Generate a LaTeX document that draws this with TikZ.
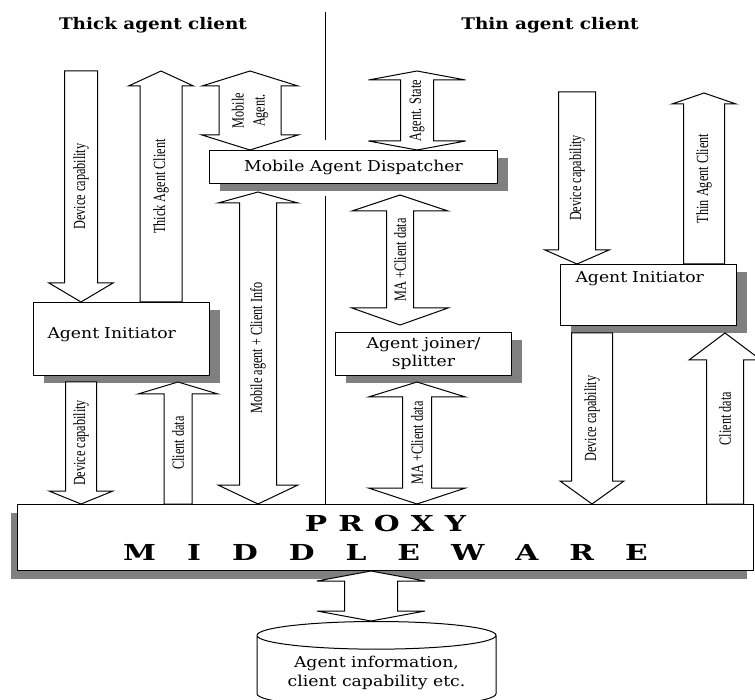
\documentclass[tikz,border=0pt]{standalone}
\usepackage{fontspec}
\usepackage{tikz}
\usetikzlibrary{positioning,calc,shapes,shapes.geometric,shadows}
\newfontfamily\boxfont[FakeStretch=1.15]{DejaVu Serif}
\newfontfamily\widefont[FakeStretch=1.35]{DejaVu Serif}
\newfontfamily\arrowfont[FakeStretch=0.72]{Liberation Serif}
\definecolor{shadowgray}{RGB}{128,128,128}

\tikzset{
	box/.style={draw, fill=white, line width=1pt, inner sep=0pt, font={\boxfont\fontsize{15}{18}\selectfont}},
	shade/.style={drop shadow={shadow xshift=#1, shadow yshift=-8pt, fill=shadowgray, opacity=1}},
	shade/.default=10pt,
	blockarrow/.style={draw, fill=white, line width=1pt, line join=miter},
	arrowlabel/.style={rotate=90, inner sep=0pt, align=center, font={\arrowfont\fontsize{17}{21}\selectfont}},
	heading/.style={font={\boxfont\bfseries\fontsize{16}{19}\selectfont}}
}

\newcommand{\blockone}[6]{%
	\coordinate (hb) at ($(#2)!#5!(#1)$);
	\draw[blockarrow] ($(#1)!#3!90:(#2)$) -- ($(hb)!#3!90:(#2)$) -- ($(hb)!#4!90:(#2)$) -- (#2) -- ($(hb)!#4!-90:(#2)$) -- ($(hb)!#3!-90:(#2)$) -- ($(#1)!#3!-90:(#2)$) -- cycle;
	\path (#1) -- (#2) node[midway, arrowlabel] {#6};
}
\newcommand{\blocktwo}[7]{%
	\coordinate (ha) at ($(#1)!#5!(#2)$);
	\coordinate (hb) at ($(#2)!#6!(#1)$);
	\draw[blockarrow] (#1) -- ($(ha)!#4!-90:(#2)$) -- ($(ha)!#3!-90:(#2)$) -- ($(hb)!#3!-90:(#2)$) -- ($(hb)!#4!-90:(#2)$) -- (#2) -- ($(hb)!#4!90:(#2)$) -- ($(hb)!#3!90:(#2)$) -- ($(ha)!#3!90:(#2)$) -- ($(ha)!#4!90:(#2)$) -- cycle;
	\if\relax\detokenize{#7}\relax\else
	\path (#1) -- (#2) node[midway, arrowlabel] {#7};
	\fi
}

\begin{document}
\begin{tikzpicture}[x=1pt, y=-1pt]
	\useasboundingbox (0,0) rectangle (755,700);
	\node [heading] (thick) at (153,25) {Thick agent client};
	\node [heading] (thin) at (550,25) {Thin agent client};

	\node [box, shade, anchor=north west, minimum width=288pt, minimum height=33pt] (dispatch) at (209,150) {Mobile Agent Dispatcher};
	\node [box, shade, anchor=north west, text width=148pt, inner xsep=14pt, inner ysep=26pt, text height=10pt, text depth=11pt, align=left] (iniL) at (33,302) {Agent Initiator};
	\node [box, shade, anchor=north west, text width=146pt, inner xsep=15pt, inner ysep=8pt, text height=10pt, text depth=35pt, align=left] (iniR) at (560,264) {Agent Initiator};
	\node [box, shade, anchor=north west, minimum width=176pt, minimum height=43pt, align=center] (joiner) at (335,332) {Agent joiner/\\splitter};
	\node [box, shade=-7pt, anchor=north west, minimum width=736pt, minimum height=66pt, align=center, font={\widefont\bfseries\fontsize{22}{29}\selectfont}] (proxy) at (17,504) {{\spaceskip=11pt P R O X Y}\\{\spaceskip=31pt M I D D L E W A R E}};
	\node [draw, fill=white, line width=1pt, cylinder, shape border rotate=90, aspect=0.15, minimum width=239pt, minimum height=86pt, anchor=north, align=center, font={\boxfont\fontsize{15}{19}\selectfont}] (db) at (376.5,621) {Agent information,\\client capability etc.};

	\draw [line width=1pt] (325,12) -- (325,140);
	\draw [line width=1pt] (dispatch.south -| 325,0) ++(0,12) -- (proxy.north -| 325,0);

	\coordinate (dcLa) at (81,71);
	\coordinate (dcLb) at (iniL.north -| 81,0);
	\coordinate (tacLa) at (iniL.north -| 161,0);
	\coordinate (tacLb) at (161,71);
	\coordinate (maga) at (250,71);
	\coordinate (magb) at (dispatch.north -| 250,0);
	\coordinate [yshift=-8pt] (mcia) at (dispatch.south -| 258,0);
	\coordinate (mcib) at (proxy.north -| 258,0);
	\coordinate [yshift=-6pt] (dcLLa) at (iniL.south -| 81,0);
	\coordinate (dcLLb) at (proxy.north -| 81,0);
	\coordinate (cdLa) at (proxy.north -| 178,0);
	\coordinate [yshift=-6pt] (cdLb) at (iniL.south -| 178,0);
	\coordinate (asa) at (417,71);
	\coordinate (asb) at (dispatch.north -| 417,0);
	\coordinate [yshift=-11pt] (macUa) at (dispatch.south -| 400,0);
	\coordinate [yshift=7pt] (macUb) at (joiner.north -| 400,0);
	\coordinate [yshift=-6pt] (macLa) at (joiner.south -| 417,0);
	\coordinate (macLb) at (proxy.north -| 417,0);
	\coordinate (dcRa) at (577,92);
	\coordinate (dcRb) at (iniR.north -| 577,0);
	\coordinate (tacRa) at (iniR.north -| 704,0);
	\coordinate (tacRb) at (704,93);
	\coordinate [yshift=-7pt] (dcRRa) at (iniR.south -| 592,0);
	\coordinate (dcRRb) at (proxy.north -| 592,0);
	\coordinate (cdRa) at (proxy.north -| 725,0);
	\coordinate [yshift=-7pt] (cdRb) at (iniR.south -| 725,0);
	\coordinate (dba) at (proxy.south -| 371,0);
	\coordinate (dbb) at (db.north -| 371,0);

	\blockone{dcLa}{dcLb}{16.5pt}{32pt}{19pt}{Device capability}
	\blockone{tacLa}{tacLb}{21pt}{32.5pt}{15pt}{Thick Agent Client}
	\blocktwo{maga}{magb}{31pt}{48pt}{15pt}{15pt}{Mobile\\Agent.}
	\blocktwo{mcia}{mcib}{18.5pt}{40pt}{11pt}{19pt}{Mobile agent + Client Info}
	\blockone{dcLLa}{dcLLb}{15.5pt}{32pt}{13pt}{Device capability}
	\blockone{cdLa}{cdLb}{14pt}{40pt}{12pt}{Client data}
	\blocktwo{asa}{asb}{16.5pt}{48.5pt}{9pt}{9pt}{Agent. State}
	\blocktwo{macUa}{macUb}{13.5pt}{48pt}{16pt}{17pt}{MA +Client data}
	\blocktwo{macLa}{macLb}{14.5pt}{48.5pt}{15pt}{16pt}{MA +Client data}
	\blockone{dcRa}{dcRb}{18.5pt}{32pt}{14pt}{Device capability}
	\blockone{tacRa}{tacRb}{20.5pt}{32pt}{11pt}{Thin Agent Client}
	\blockone{dcRRa}{dcRRb}{20.5pt}{32pt}{23pt}{Device capability}
	\blockone{cdRa}{cdRb}{18.5pt}{36pt}{27pt}{Client data}
	\blocktwo{dba}{dbb}{26.5pt}{54pt}{10pt}{10pt}{}
\end{tikzpicture}
\end{document}
